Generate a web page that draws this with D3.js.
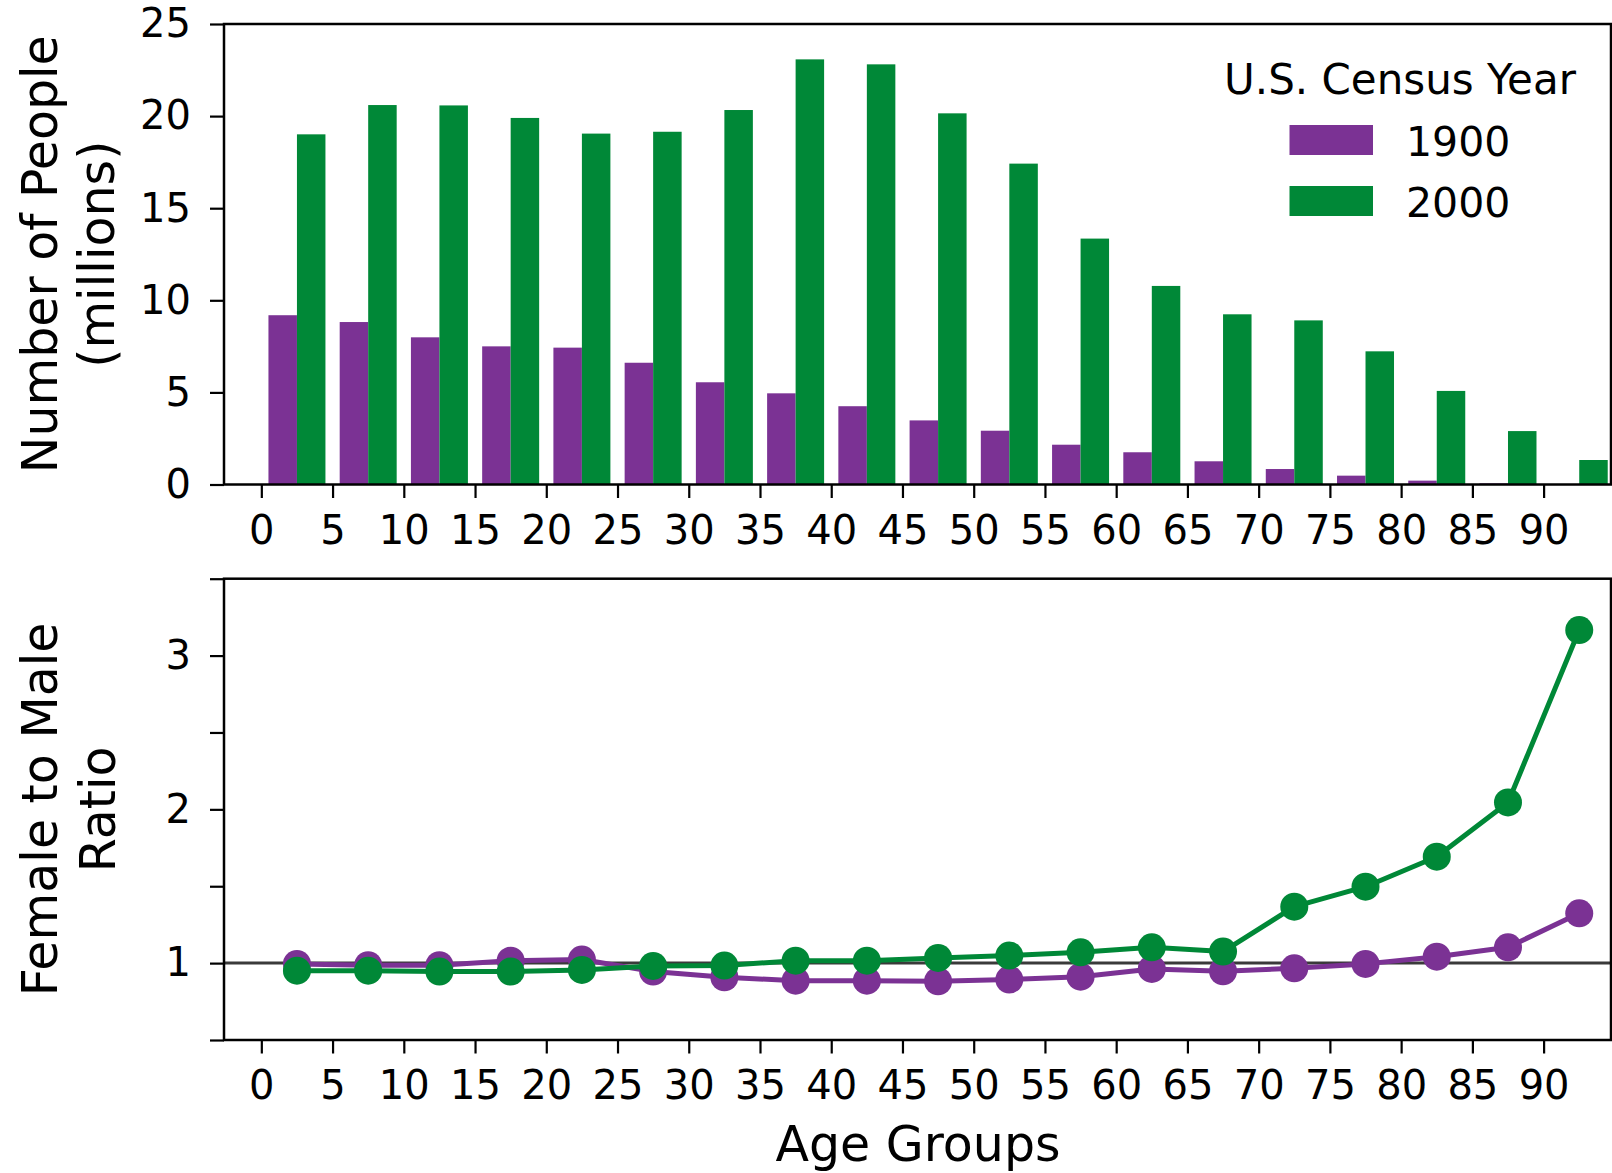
<!DOCTYPE html>
<html>
<head>
<meta charset="utf-8">
<script src="https://cdn.jsdelivr.net/npm/d3@7"></script>
<style>
  html, body { margin: 0; padding: 0; background: #fff; }
  svg { display: block; font-family: "DejaVu Sans", sans-serif; }
</style>
</head>
<body>
<svg id="chart" width="1612" height="1173"></svg>
<script>
// ---- data ----
const ageGroups = [0, 5, 10, 15, 20, 25, 30, 35, 40, 45, 50, 55, 60, 65, 70, 75, 80, 85, 90];
const seriesNames = ["1900", "2000"];
const pop1900 = [9.19, 8.82, 7.99, 7.50, 7.43, 6.61, 5.55, 4.95, 4.25, 3.48, 2.92, 2.16, 1.75, 1.26, 0.84, 0.48, 0.21, 0.06, 0.02];
const pop2000 = [19.01, 20.60, 20.58, 19.90, 19.05, 19.15, 20.33, 23.08, 22.81, 20.15, 17.42, 13.35, 10.78, 9.24, 8.91, 7.23, 5.08, 2.90, 1.33];
const ratio1900 = [0.995, 0.986, 0.986, 1.016, 1.023, 0.945, 0.908, 0.886, 0.886, 0.882, 0.893, 0.912, 0.962, 0.947, 0.966, 0.995, 1.042, 1.103, 1.324];
const ratio2000 = [0.951, 0.951, 0.945, 0.945, 0.956, 0.982, 0.984, 1.016, 1.016, 1.034, 1.049, 1.070, 1.103, 1.075, 1.367, 1.497, 1.692, 2.045, 3.166];
const xTickValues = [0, 5, 10, 15, 20, 25, 30, 35, 40, 45, 50, 55, 60, 65, 70, 75, 80, 85, 90];
const popTickValues = [0, 5, 10, 15, 20, 25];
const ratioTickValues = [0.5, 1, 1.5, 2, 2.5, 3, 3.5];
const ratioTickLabels = ["", "1", "", "2", "", "3", ""];

const colors = { "1900": "#7b3294", "2000": "#008837" };

// ---- layout ----
const svg = d3.select("#chart");
const left = 224, right = 1611;
const top1 = 24, bot1 = 484.5;
const top2 = 578.7, bot2 = 1040;
const tickFont = 40, labelFont = 49;

const x = d3.scaleLinear().domain([-2.62, 94.8]).range([left, 1612]);
const yPop = d3.scaleLinear().domain([0, 25]).range([bot1, top1]);
const yRatio = d3.scaleLinear().domain([0.5, 3.5]).range([bot2, top2]);

function styleAxis(g) {
  g.select(".domain").remove();
  g.selectAll(".tick line").attr("stroke", "#000").attr("stroke-width", 2.2);
  g.selectAll(".tick text").attr("font-size", tickFont).attr("fill", "#000")
    .attr("font-family", "DejaVu Sans, sans-serif");
}

// ---- top panel: bars ----
const barW = 2; // in age units
const gBars = svg.append("g");
gBars.selectAll("rect.p1900").data(ageGroups).enter().append("rect")
  .attr("x", (d) => x(d + 0.5))
  .attr("width", (d) => x(d + 0.5 + barW) - x(d + 0.5))
  .attr("y", (d, i) => yPop(pop1900[i]))
  .attr("height", (d, i) => yPop(0) - yPop(pop1900[i]))
  .attr("fill", colors["1900"]);
gBars.selectAll("rect.p2000").data(ageGroups).enter().append("rect")
  .attr("x", (d) => x(d + 2.5))
  .attr("width", (d) => x(d + 2.5 + barW) - x(d + 2.5))
  .attr("y", (d, i) => yPop(pop2000[i]))
  .attr("height", (d, i) => yPop(0) - yPop(pop2000[i]))
  .attr("fill", colors["2000"]);

// frame top
svg.append("rect").attr("x", left).attr("y", top1).attr("width", right - left).attr("height", bot1 - top1)
  .attr("fill", "none").attr("stroke", "#000").attr("stroke-width", 2.5);

svg.append("g").attr("transform", `translate(${left},0)`)
  .call(d3.axisLeft(yPop).tickValues(popTickValues).tickSize(14).tickPadding(19).tickFormat(d3.format("d")))
  .call(styleAxis);
svg.append("g").attr("transform", `translate(0,${bot1})`)
  .call(d3.axisBottom(x).tickValues(xTickValues).tickSize(13.5).tickPadding(18).tickFormat(d3.format("d")))
  .call(styleAxis);

// legend
const leg = svg.append("g");
leg.append("text").attr("x", 1400).attr("y", 93.5).attr("text-anchor", "middle")
  .attr("font-size", 42).text("U.S. Census Year");
seriesNames.forEach((s, i) => {
  const yy = 125 + i * 61;
  leg.append("rect").attr("x", 1289.5).attr("y", yy).attr("width", 83.5).attr("height", 30)
    .attr("fill", colors[s]);
  leg.append("text").attr("x", 1406).attr("y", yy + 30.5).attr("font-size", 41).text(s);
});

// y label top
svg.append("text").attr("transform", `translate(57,${(top1 + bot1) / 2}) rotate(-90)`)
  .attr("text-anchor", "middle").attr("font-size", labelFont).text("Number of People");
svg.append("text").attr("transform", `translate(114,${(top1 + bot1) / 2}) rotate(-90)`)
  .attr("text-anchor", "middle").attr("font-size", labelFont).text("(millions)");

// ---- bottom panel: ratio lines ----
svg.append("line").attr("x1", left).attr("x2", right).attr("y1", yRatio(1)).attr("y2", yRatio(1))
  .attr("stroke", "#3a3a3a").attr("stroke-width", 3);

const lineGen = d3.line().x((d) => x(d.age + 2.5)).y((d) => yRatio(d.v));
[["1900", ratio1900], ["2000", ratio2000]].forEach(([s, arr]) => {
  const pts = ageGroups.map((a, i) => ({ age: a, v: arr[i] }));
  svg.append("path").datum(pts).attr("d", lineGen).attr("fill", "none")
    .attr("stroke", colors[s]).attr("stroke-width", 5).attr("stroke-linejoin", "round");
  svg.append("g").selectAll("circle").data(pts).enter().append("circle")
    .attr("cx", (d) => x(d.age + 2.5)).attr("cy", (d) => yRatio(d.v)).attr("r", 14)
    .attr("fill", colors[s]);
});

svg.append("rect").attr("x", left).attr("y", top2).attr("width", right - left).attr("height", bot2 - top2)
  .attr("fill", "none").attr("stroke", "#000").attr("stroke-width", 2.5);

svg.append("g").attr("transform", `translate(${left},0)`)
  .call(d3.axisLeft(yRatio).tickValues(ratioTickValues).tickSize(14).tickPadding(19)
    .tickFormat((d, i) => ratioTickLabels[i]))
  .call(styleAxis);
svg.append("g").attr("transform", `translate(0,${bot2})`)
  .call(d3.axisBottom(x).tickValues(xTickValues).tickSize(13.5).tickPadding(17).tickFormat(d3.format("d")))
  .call(styleAxis);

svg.append("text").attr("transform", `translate(57,${(top2 + bot2) / 2}) rotate(-90)`)
  .attr("text-anchor", "middle").attr("font-size", labelFont).text("Female to Male");
svg.append("text").attr("transform", `translate(115,${(top2 + bot2) / 2}) rotate(-90)`)
  .attr("text-anchor", "middle").attr("font-size", labelFont).text("Ratio");

svg.append("text").attr("x", (left + 1612) / 2).attr("y", 1161).attr("text-anchor", "middle")
  .attr("font-size", labelFont).text("Age Groups");
</script>
</body>
</html>
